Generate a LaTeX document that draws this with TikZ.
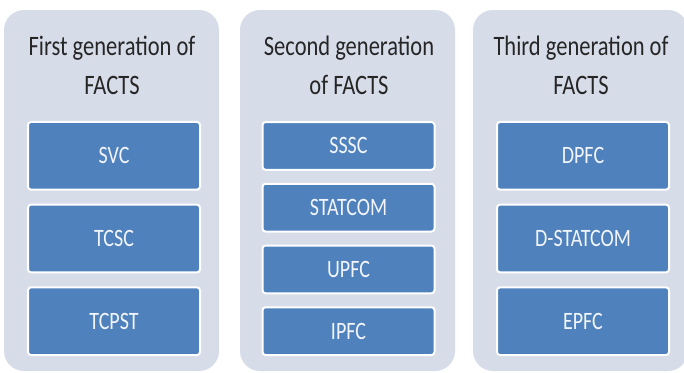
\documentclass[tikz,border=0pt]{standalone}
\usepackage{fontspec}
\setmainfont{Carlito}
\usepackage{graphicx}

\definecolor{panelgrey}{HTML}{D7DCE9}
\definecolor{facblue}{HTML}{4F81BD}
\definecolor{labelwhite}{HTML}{F2F5FB}
\definecolor{titleink}{HTML}{262626}

% the source figure is stretched upright a little
\newcommand{\tall}[1]{\scalebox{1}[1.25]{#1}}

\tikzset{
  genpanel/.style={rectangle, rounded corners=20pt, fill=panelgrey,
    minimum width=215pt, minimum height=361pt, inner sep=0pt},
  gentitle/.style={align=center, text=titleink, inner sep=0pt,
    font=\fontsize{22.5}{31}\selectfont, yscale=1.25},
  devbox/.style={rectangle, rounded corners=3pt, fill=facblue, draw=white,
    line width=2pt, minimum width=172pt, inner sep=0pt, text=labelwhite,
    font=\fontsize{20}{24}\selectfont},
}

\begin{document}
\begin{tikzpicture}[x=1pt, y=-1pt]

  % ---------------------------------------------------------------- frame
  % pixel grid of the reference, y running down
  \fill[white] (0,0) rectangle (684,372);
  \useasboundingbox (0,0) rectangle (684,372);

  % ---------------------------------------------------------------- panels
  \node[genpanel] (gen1) at (111.5,190.5) {};
  \node[genpanel] (gen2) at (347.5,190.5) {};
  \node[genpanel] (gen3) at (580.5,190.5) {};

  \node[gentitle] (gen1title) at (112,65) {First generation of\\FACTS};
  \node[gentitle] (gen2title) at (349,65) {Second generation\\of FACTS};
  \node[gentitle] (gen3title) at (581,65) {Third generation of\\FACTS};

  % ------------------------------------------------------- device boxes
  % three boxes share the same band as four, gaps 15 / 14
  \foreach \name/\lbl [count=\i] in {svc/SVC, tcsc/TCSC, tcpst/TCPST}
    \node[devbox, minimum height=67.7pt] (\name)
      at (114,{155.8+82.7*(\i-1)}) {\tall{\lbl}};

  \foreach \name/\lbl [count=\i] in {sssc/SSSC, statcom/STATCOM,
      upfc/UPFC, ipfc/IPFC}
    \node[devbox, minimum height=47.7pt] (\name)
      at (348.5,{145.9+61.75*(\i-1)}) {\tall{\lbl}};

  \foreach \name/\lbl [count=\i] in {dpfc/DPFC, dstatcom/D-STATCOM, epfc/EPFC}
    \node[devbox, minimum height=67.7pt] (\name)
      at (583,{155.8+82.7*(\i-1)}) {\tall{\lbl}};

\end{tikzpicture}
\end{document}
